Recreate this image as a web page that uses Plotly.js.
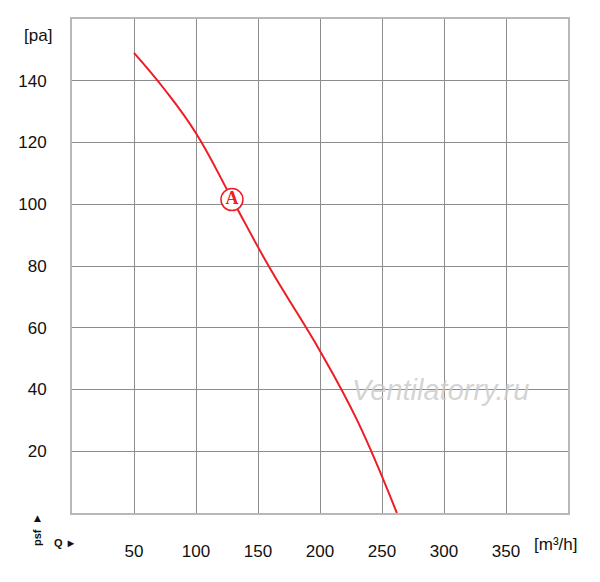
<!DOCTYPE html>
<html>
<head>
<meta charset="utf-8">
<script src="https://cdn.plot.ly/plotly-3.0.1.min.js"></script>
<style>html,body{margin:0;padding:0;background:#fff;}#chart{width:600px;height:582px;}</style>
</head>
<body>
<div id="chart"></div>
<script>
// Airflow Q [m³/h] vs static pressure psf [pa], curve A
const flowQ = [50, 75, 100, 130, 160, 200, 230, 262];
const pressure = [149, 137, 123, 101, 79, 52.5, 30, 0];
const markerLabel = ['<b>A</b>'];
const markerQ = [129];
const markerP = [101.5];
const xTickVals = [0, 50, 100, 150, 200, 250, 300, 350, 400];
const xTickText = ['', '50', '100', '150', '200', '250', '300', '350', ''];
const yTickVals = [0, 20, 40, 60, 80, 100, 120, 140, 160];
const yTickText = ['', '20', '40', '60', '80', '100', '120', '140', ''];

const font = {family: 'Liberation Sans, Arial, sans-serif', size: 17, color: '#111'};
const smallFont = {family: 'Liberation Sans, Arial, sans-serif', size: 11, color: '#111', weight: 'bold'};

const traces = [
  {
    x: flowQ, y: pressure, type: 'scatter', mode: 'lines',
    line: {color: '#ee1c24', width: 2, shape: 'spline', smoothing: 1.2},
    hoverinfo: 'skip'
  },
  {
    x: markerQ, y: markerP, type: 'scatter', mode: 'markers+text',
    text: markerLabel, textposition: 'middle center',
    textfont: {family: 'Liberation Serif, Times New Roman, serif', size: 18, color: '#ee1c24'},
    marker: {symbol: 'circle', size: 22, color: '#ffffff', line: {color: '#ee1c24', width: 1.5}},
    hoverinfo: 'skip'
  }
];

const layout = {
  width: 600, height: 582,
  margin: {l: 72, r: 32, t: 19, b: 69},
  paper_bgcolor: '#fff', plot_bgcolor: '#fff',
  showlegend: false,
  font: font,
  xaxis: {
    range: [0, 400], tickvals: xTickVals, ticktext: xTickText,
    showgrid: true, gridcolor: '#8c8c8c', gridwidth: 1,
    showline: true, linecolor: '#b8b8b8', linewidth: 2, mirror: true,
    zeroline: false, ticks: '', ticklabelstandoff: 22, fixedrange: true,
    tickfont: font
  },
  yaxis: {
    range: [0, 160], tickvals: yTickVals, ticktext: yTickText,
    showgrid: true, gridcolor: '#8c8c8c', gridwidth: 1,
    showline: true, linecolor: '#b8b8b8', linewidth: 2, mirror: true,
    zeroline: false, ticks: '', ticklabelstandoff: 20, fixedrange: true,
    tickfont: font
  },
  annotations: [
    {xref: 'paper', yref: 'paper', x: 1.0, y: 0, yshift: -31, xshift: -13,
     text: '[m³/h]', showarrow: false, font: font, xanchor: 'center', yanchor: 'middle'},
    {xref: 'paper', yref: 'paper', x: 0, y: 1, xshift: -34, yshift: -16,
     text: '[pa]', showarrow: false, font: font, xanchor: 'center', yanchor: 'middle'},
    {xref: 'paper', yref: 'paper', x: 0, y: 0, xshift: -7, yshift: -30,
     text: 'Q ►', showarrow: false, font: smallFont,
     xanchor: 'center', yanchor: 'middle'},
    {xref: 'paper', yref: 'paper', x: 0, y: 0, xshift: -35, yshift: -25,
     text: 'psf', textangle: -90, showarrow: false, font: smallFont,
     xanchor: 'center', yanchor: 'middle'},
    {xref: 'paper', yref: 'paper', x: 0, y: 0, xshift: -35, yshift: -5,
     text: '▲', showarrow: false,
     font: {family: 'DejaVu Sans, sans-serif', size: 9, color: '#111'},
     xanchor: 'center', yanchor: 'middle'},
    {xref: 'x', yref: 'y', x: 297, y: 40,
     text: '<i>Ventilatorry.ru</i>', showarrow: false,
     font: {family: 'Liberation Sans, Arial, sans-serif', size: 29, color: 'rgba(205,205,205,0.85)'},
     xanchor: 'center', yanchor: 'middle'}
  ]
};

Plotly.newPlot('chart', traces, layout, {staticPlot: true, displayModeBar: false});
</script>
</body>
</html>
